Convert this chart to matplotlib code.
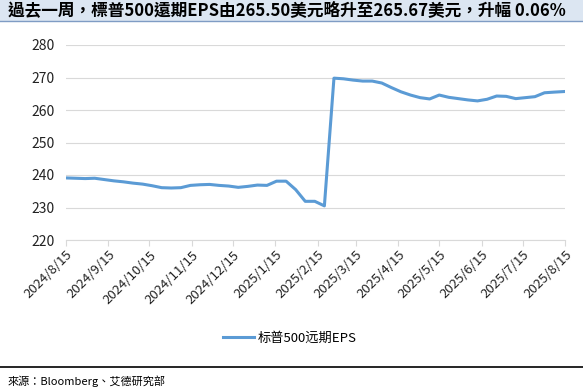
import matplotlib
matplotlib.use("Agg")
import matplotlib.pyplot as plt
import matplotlib.dates as mdates
from matplotlib.patches import Rectangle
from matplotlib.lines import Line2D
import numpy as np
import pandas as pd

plt.rcParams["font.family"] = ["Noto Sans CJK TC", "DejaVu Sans"]

# weekly forward EPS readings
start_date = "2024-08-15"
eps = [
    239.1, 239.0, 238.9, 239.0, 238.6, 238.2, 237.9, 237.5, 237.2, 236.7,
    236.1, 236.0, 236.1, 236.8, 237.0, 237.1, 236.8, 236.6, 236.2, 236.5,
    236.9, 236.8, 238.1, 238.1, 235.5, 231.9, 231.9, 230.5, 269.8, 269.6,
    269.2, 268.9, 268.9, 268.3, 266.9, 265.6, 264.6, 263.8, 263.4, 264.6,
    263.9, 263.5, 263.1, 262.8, 263.3, 264.3, 264.2, 263.5, 263.8, 264.1,
    265.3, 265.50, 265.67,
]
tick_dates = pd.to_datetime([
    "2024-08-15", "2024-09-15", "2024-10-15", "2024-11-15", "2024-12-15",
    "2025-01-15", "2025-02-15", "2025-03-15", "2025-04-15", "2025-05-15",
    "2025-06-15", "2025-07-15", "2025-08-15",
])
series_label = "标普500远期EPS"
title = "過去一周，標普500遠期EPS由265.50美元略升至265.67美元，升幅 0.06%"
source = "來源：Bloomberg、艾德研究部"

dates = pd.date_range(start_date, periods=len(eps), freq="7D")

fig = plt.figure(figsize=(5.83, 3.89), dpi=100)
ax = fig.add_axes([66 / 583, 1 - 240 / 389, 499 / 583, 195 / 389])

ax.plot(dates, eps, color="#5B9BD5", lw=2.2, label=series_label,
        solid_joinstyle="round")

ax.set_ylim(220, 280)
ax.set_yticks(np.arange(220, 281, 10))
ax.set_xlim(tick_dates[0], tick_dates[-1])
ax.set_xticks(tick_dates)
ax.set_xticklabels([f"{d.year}/{d.month}/{d.day}" for d in tick_dates])
ax.grid(axis="y", color="#D9D9D9", lw=0.8)
ax.set_axisbelow(True)
for side in ("top", "right", "left"):
    ax.spines[side].set_visible(False)
ax.spines["bottom"].set_color("#D9D9D9")
ax.tick_params(axis="y", length=0, pad=8, labelsize=10, labelcolor="#222222")
ax.tick_params(axis="x", length=4, color="#D9D9D9", labelsize=9.5,
               labelcolor="#222222", pad=2)
for lab in ax.get_xticklabels():
    lab.set_rotation(45)
    lab.set_ha("right")
    lab.set_rotation_mode("anchor")

fig.legend(loc="center", bbox_to_anchor=(290 / 583, 1 - 338 / 389),
           frameon=False, fontsize=9.5, handlelength=2.3, handletextpad=0.3)

# title bar
fig.patches.append(Rectangle((0, 1 - 21 / 389), 1, 21 / 389,
                             transform=fig.transFigure, facecolor="#DCE6F2",
                             edgecolor="none", zorder=0))
fig.lines.append(Line2D([0, 1], [1 - 21 / 389] * 2, transform=fig.transFigure,
                        color="#7F9CC4", lw=1))
fig.text(8 / 583, 1 - 11 / 389, title, fontsize=12, fontweight="bold",
         va="center", ha="left")

# footer
fig.lines.append(Line2D([0, 1], [1 - 367 / 389] * 2, transform=fig.transFigure,
                        color="black", lw=1.2))
fig.text(8 / 583, 1 - 381 / 389, source, fontsize=8, va="center", ha="left")

fig.savefig("out.png", dpi=100)
